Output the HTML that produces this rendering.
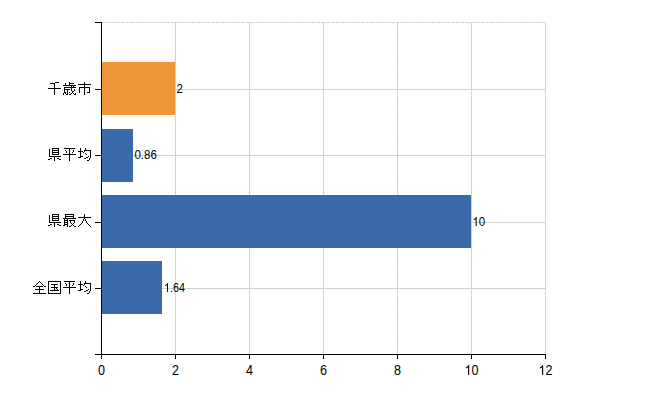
<!DOCTYPE html>
<html><head><meta charset="utf-8"><title>chart</title>
<style>
html,body{margin:0;padding:0;background:#fff;}
body{width:650px;height:400px;overflow:hidden;font-family:"Liberation Sans",sans-serif;}
svg{display:block;}
.ax{font-family:"Liberation Sans",sans-serif;font-size:14px;fill:#000;}
.dl{font-family:"Liberation Sans",sans-serif;font-size:12px;fill:#000;}
</style></head><body>
<svg width="650" height="400" viewBox="0 0 650 400" shape-rendering="crispEdges">
<rect width="650" height="400" fill="#fff"/>
<defs><pattern id="vp" x="0" y="0" width="1" height="5" patternUnits="userSpaceOnUse"><rect width="1" height="5" fill="#cbd1cb"/><rect width="1" height="1" fill="#ffccff"/></pattern><pattern id="hp" x="5" y="0" width="15" height="1" patternUnits="userSpaceOnUse"><rect x="0" width="1" height="1" fill="#ffffff"/><rect x="1" width="1" height="1" fill="#cbd1cb"/><rect x="2" width="1" height="1" fill="#cbd1cb"/><rect x="3" width="1" height="1" fill="#ffccff"/><rect x="4" width="1" height="1" fill="#ccffcc"/><rect x="5" width="1" height="1" fill="#cbd1cb"/><rect x="6" width="1" height="1" fill="#ffccff"/><rect x="7" width="1" height="1" fill="#cbd1cb"/><rect x="8" width="1" height="1" fill="#cbd1cb"/><rect x="9" width="1" height="1" fill="#ffccff"/><rect x="10" width="1" height="1" fill="#ccffcc"/><rect x="11" width="1" height="1" fill="#cbd1cb"/><rect x="12" width="1" height="1" fill="#ffccff"/><rect x="13" width="1" height="1" fill="#cbd1cb"/><rect x="14" width="1" height="1" fill="#cbd1cb"/></pattern></defs>
<rect x="102" y="22" width="444" height="1" fill="url(#hp)"/>
<rect x="175" y="23" width="1" height="331" fill="url(#vp)"/>
<rect x="249" y="23" width="1" height="331" fill="url(#vp)"/>
<rect x="323" y="23" width="1" height="331" fill="url(#vp)"/>
<rect x="397" y="23" width="1" height="331" fill="url(#vp)"/>
<rect x="471" y="23" width="1" height="331" fill="url(#vp)"/>
<rect x="545" y="23" width="1" height="331" fill="url(#vp)"/>
<rect x="102" y="89" width="444" height="1" fill="#cbd1cb"/>
<rect x="102" y="155" width="444" height="1" fill="#cbd1cb"/>
<rect x="102" y="222" width="444" height="1" fill="#cbd1cb"/>
<rect x="102" y="288" width="444" height="1" fill="#cbd1cb"/>
<rect x="102" y="62" width="73" height="53" fill="#f09639"/>
<rect x="102" y="129" width="31" height="53" fill="#3b6aab"/>
<rect x="102" y="195" width="369" height="53" fill="#3b6aab"/>
<rect x="102" y="261" width="60" height="53" fill="#3b6aab"/>
<rect x="101" y="22" width="1" height="333" fill="#000"/>
<rect x="95" y="354" width="451" height="1" fill="#000"/>
<rect x="95" y="22" width="7" height="1" fill="#000"/>
<rect x="95" y="89" width="7" height="1" fill="#000"/>
<rect x="95" y="155" width="7" height="1" fill="#000"/>
<rect x="95" y="222" width="7" height="1" fill="#000"/>
<rect x="95" y="288" width="7" height="1" fill="#000"/>
<rect x="101" y="354" width="1" height="5" fill="#000"/>
<rect x="175" y="354" width="1" height="5" fill="#000"/>
<rect x="249" y="354" width="1" height="5" fill="#000"/>
<rect x="323" y="354" width="1" height="5" fill="#000"/>
<rect x="397" y="354" width="1" height="5" fill="#000"/>
<rect x="471" y="354" width="1" height="5" fill="#000"/>
<rect x="545" y="354" width="1" height="5" fill="#000"/>
<g fill="#000"><rect x="55" y="82" width="4" height="1"/><rect x="50" y="83" width="5" height="1"/><rect x="54" y="84" width="1" height="1"/><rect x="54" y="85" width="1" height="1"/><rect x="54" y="86" width="1" height="1"/><rect x="54" y="87" width="1" height="1"/><rect x="48" y="88" width="13" height="1"/><rect x="54" y="89" width="1" height="1"/><rect x="54" y="90" width="1" height="1"/><rect x="54" y="91" width="1" height="1"/><rect x="54" y="92" width="1" height="1"/><rect x="54" y="93" width="1" height="1"/><rect x="54" y="94" width="1" height="1"/><rect x="69" y="82" width="1" height="1"/><rect x="65" y="83" width="1" height="1"/><rect x="69" y="83" width="5" height="1"/><rect x="65" y="84" width="1" height="1"/><rect x="69" y="84" width="1" height="1"/><rect x="63" y="85" width="13" height="1"/><rect x="71" y="86" width="1" height="1"/><rect x="73" y="86" width="1" height="1"/><rect x="64" y="87" width="12" height="1"/><rect x="64" y="88" width="1" height="1"/><rect x="71" y="88" width="1" height="1"/><rect x="64" y="89" width="6" height="1"/><rect x="71" y="89" width="1" height="1"/><rect x="74" y="89" width="1" height="1"/><rect x="64" y="90" width="1" height="1"/><rect x="67" y="90" width="1" height="1"/><rect x="71" y="90" width="1" height="1"/><rect x="74" y="90" width="1" height="1"/><rect x="64" y="91" width="1" height="1"/><rect x="67" y="91" width="1" height="1"/><rect x="72" y="91" width="2" height="1"/><rect x="64" y="92" width="2" height="1"/><rect x="67" y="92" width="1" height="1"/><rect x="69" y="92" width="1" height="1"/><rect x="72" y="92" width="1" height="1"/><rect x="63" y="93" width="1" height="1"/><rect x="65" y="93" width="1" height="1"/><rect x="67" y="93" width="1" height="1"/><rect x="71" y="93" width="1" height="1"/><rect x="73" y="93" width="1" height="1"/><rect x="75" y="93" width="1" height="1"/><rect x="63" y="94" width="1" height="1"/><rect x="66" y="94" width="2" height="1"/><rect x="69" y="94" width="2" height="1"/><rect x="74" y="94" width="2" height="1"/><rect x="84" y="82" width="1" height="1"/><rect x="84" y="83" width="1" height="1"/><rect x="78" y="84" width="13" height="1"/><rect x="84" y="85" width="1" height="1"/><rect x="84" y="86" width="1" height="1"/><rect x="79" y="87" width="11" height="1"/><rect x="79" y="88" width="1" height="1"/><rect x="84" y="88" width="1" height="1"/><rect x="89" y="88" width="1" height="1"/><rect x="79" y="89" width="1" height="1"/><rect x="84" y="89" width="1" height="1"/><rect x="89" y="89" width="1" height="1"/><rect x="79" y="90" width="1" height="1"/><rect x="84" y="90" width="1" height="1"/><rect x="89" y="90" width="1" height="1"/><rect x="79" y="91" width="1" height="1"/><rect x="84" y="91" width="1" height="1"/><rect x="89" y="91" width="1" height="1"/><rect x="79" y="92" width="1" height="1"/><rect x="84" y="92" width="1" height="1"/><rect x="87" y="92" width="3" height="1"/><rect x="84" y="93" width="1" height="1"/><rect x="84" y="94" width="1" height="1"/>
<rect x="52" y="148" width="7" height="1"/><rect x="49" y="149" width="1" height="1"/><rect x="52" y="149" width="1" height="1"/><rect x="58" y="149" width="1" height="1"/><rect x="49" y="150" width="1" height="1"/><rect x="52" y="150" width="7" height="1"/><rect x="49" y="151" width="1" height="1"/><rect x="52" y="151" width="1" height="1"/><rect x="58" y="151" width="1" height="1"/><rect x="49" y="152" width="1" height="1"/><rect x="52" y="152" width="7" height="1"/><rect x="49" y="153" width="1" height="1"/><rect x="52" y="153" width="1" height="1"/><rect x="58" y="153" width="1" height="1"/><rect x="49" y="154" width="1" height="1"/><rect x="52" y="154" width="7" height="1"/><rect x="49" y="155" width="1" height="1"/><rect x="49" y="156" width="12" height="1"/><rect x="54" y="157" width="1" height="1"/><rect x="50" y="158" width="2" height="1"/><rect x="54" y="158" width="1" height="1"/><rect x="57" y="158" width="2" height="1"/><rect x="48" y="159" width="2" height="1"/><rect x="54" y="159" width="1" height="1"/><rect x="59" y="159" width="2" height="1"/><rect x="54" y="160" width="1" height="1"/><rect x="64" y="148" width="11" height="1"/><rect x="69" y="149" width="1" height="1"/><rect x="65" y="150" width="1" height="1"/><rect x="69" y="150" width="1" height="1"/><rect x="73" y="150" width="1" height="1"/><rect x="66" y="151" width="1" height="1"/><rect x="69" y="151" width="1" height="1"/><rect x="73" y="151" width="1" height="1"/><rect x="66" y="152" width="1" height="1"/><rect x="69" y="152" width="1" height="1"/><rect x="72" y="152" width="1" height="1"/><rect x="69" y="153" width="1" height="1"/><rect x="63" y="154" width="13" height="1"/><rect x="69" y="155" width="1" height="1"/><rect x="69" y="156" width="1" height="1"/><rect x="69" y="157" width="1" height="1"/><rect x="69" y="158" width="1" height="1"/><rect x="69" y="159" width="1" height="1"/><rect x="69" y="160" width="1" height="1"/><rect x="80" y="148" width="1" height="1"/><rect x="85" y="148" width="1" height="1"/><rect x="80" y="149" width="1" height="1"/><rect x="85" y="149" width="1" height="1"/><rect x="80" y="150" width="1" height="1"/><rect x="84" y="150" width="7" height="1"/><rect x="78" y="151" width="5" height="1"/><rect x="84" y="151" width="1" height="1"/><rect x="90" y="151" width="1" height="1"/><rect x="80" y="152" width="1" height="1"/><rect x="83" y="152" width="1" height="1"/><rect x="90" y="152" width="1" height="1"/><rect x="80" y="153" width="1" height="1"/><rect x="85" y="153" width="1" height="1"/><rect x="90" y="153" width="1" height="1"/><rect x="80" y="154" width="1" height="1"/><rect x="86" y="154" width="1" height="1"/><rect x="90" y="154" width="1" height="1"/><rect x="80" y="155" width="1" height="1"/><rect x="90" y="155" width="1" height="1"/><rect x="80" y="156" width="3" height="1"/><rect x="88" y="156" width="1" height="1"/><rect x="90" y="156" width="1" height="1"/><rect x="78" y="157" width="3" height="1"/><rect x="86" y="157" width="2" height="1"/><rect x="90" y="157" width="1" height="1"/><rect x="84" y="158" width="2" height="1"/><rect x="89" y="158" width="1" height="1"/><rect x="89" y="159" width="1" height="1"/><rect x="87" y="160" width="2" height="1"/>
<rect x="52" y="214" width="7" height="1"/><rect x="49" y="215" width="1" height="1"/><rect x="52" y="215" width="1" height="1"/><rect x="58" y="215" width="1" height="1"/><rect x="49" y="216" width="1" height="1"/><rect x="52" y="216" width="7" height="1"/><rect x="49" y="217" width="1" height="1"/><rect x="52" y="217" width="1" height="1"/><rect x="58" y="217" width="1" height="1"/><rect x="49" y="218" width="1" height="1"/><rect x="52" y="218" width="7" height="1"/><rect x="49" y="219" width="1" height="1"/><rect x="52" y="219" width="1" height="1"/><rect x="58" y="219" width="1" height="1"/><rect x="49" y="220" width="1" height="1"/><rect x="52" y="220" width="7" height="1"/><rect x="49" y="221" width="1" height="1"/><rect x="49" y="222" width="12" height="1"/><rect x="54" y="223" width="1" height="1"/><rect x="50" y="224" width="2" height="1"/><rect x="54" y="224" width="1" height="1"/><rect x="57" y="224" width="2" height="1"/><rect x="48" y="225" width="2" height="1"/><rect x="54" y="225" width="1" height="1"/><rect x="59" y="225" width="2" height="1"/><rect x="54" y="226" width="1" height="1"/><rect x="65" y="214" width="9" height="1"/><rect x="65" y="215" width="1" height="1"/><rect x="73" y="215" width="1" height="1"/><rect x="65" y="216" width="9" height="1"/><rect x="65" y="217" width="1" height="1"/><rect x="73" y="217" width="1" height="1"/><rect x="63" y="218" width="13" height="1"/><rect x="64" y="219" width="1" height="1"/><rect x="67" y="219" width="1" height="1"/><rect x="64" y="220" width="4" height="1"/><rect x="69" y="220" width="6" height="1"/><rect x="64" y="221" width="1" height="1"/><rect x="67" y="221" width="1" height="1"/><rect x="70" y="221" width="1" height="1"/><rect x="74" y="221" width="1" height="1"/><rect x="64" y="222" width="4" height="1"/><rect x="70" y="222" width="1" height="1"/><rect x="74" y="222" width="1" height="1"/><rect x="64" y="223" width="1" height="1"/><rect x="67" y="223" width="1" height="1"/><rect x="71" y="223" width="1" height="1"/><rect x="73" y="223" width="1" height="1"/><rect x="64" y="224" width="4" height="1"/><rect x="72" y="224" width="1" height="1"/><rect x="63" y="225" width="2" height="1"/><rect x="67" y="225" width="1" height="1"/><rect x="71" y="225" width="1" height="1"/><rect x="73" y="225" width="1" height="1"/><rect x="67" y="226" width="1" height="1"/><rect x="69" y="226" width="2" height="1"/><rect x="74" y="226" width="2" height="1"/><rect x="84" y="214" width="1" height="1"/><rect x="84" y="215" width="1" height="1"/><rect x="84" y="216" width="1" height="1"/><rect x="78" y="217" width="13" height="1"/><rect x="84" y="218" width="1" height="1"/><rect x="83" y="219" width="1" height="1"/><rect x="85" y="219" width="1" height="1"/><rect x="83" y="220" width="1" height="1"/><rect x="85" y="220" width="1" height="1"/><rect x="82" y="221" width="1" height="1"/><rect x="86" y="221" width="1" height="1"/><rect x="82" y="222" width="1" height="1"/><rect x="86" y="222" width="1" height="1"/><rect x="81" y="223" width="1" height="1"/><rect x="87" y="223" width="1" height="1"/><rect x="80" y="224" width="1" height="1"/><rect x="88" y="224" width="1" height="1"/><rect x="79" y="225" width="1" height="1"/><rect x="89" y="225" width="1" height="1"/><rect x="78" y="226" width="1" height="1"/><rect x="90" y="226" width="1" height="1"/>
<rect x="39" y="281" width="1" height="1"/><rect x="38" y="282" width="1" height="1"/><rect x="40" y="282" width="1" height="1"/><rect x="37" y="283" width="1" height="1"/><rect x="41" y="283" width="1" height="1"/><rect x="36" y="284" width="1" height="1"/><rect x="42" y="284" width="1" height="1"/><rect x="35" y="285" width="1" height="1"/><rect x="43" y="285" width="1" height="1"/><rect x="33" y="286" width="2" height="1"/><rect x="36" y="286" width="7" height="1"/><rect x="44" y="286" width="2" height="1"/><rect x="39" y="287" width="1" height="1"/><rect x="39" y="288" width="1" height="1"/><rect x="35" y="289" width="9" height="1"/><rect x="39" y="290" width="1" height="1"/><rect x="39" y="291" width="1" height="1"/><rect x="39" y="292" width="1" height="1"/><rect x="33" y="293" width="13" height="1"/><rect x="48" y="281" width="13" height="1"/><rect x="48" y="282" width="1" height="1"/><rect x="60" y="282" width="1" height="1"/><rect x="48" y="283" width="1" height="1"/><rect x="60" y="283" width="1" height="1"/><rect x="48" y="284" width="1" height="1"/><rect x="51" y="284" width="7" height="1"/><rect x="60" y="284" width="1" height="1"/><rect x="48" y="285" width="1" height="1"/><rect x="54" y="285" width="1" height="1"/><rect x="60" y="285" width="1" height="1"/><rect x="48" y="286" width="1" height="1"/><rect x="54" y="286" width="1" height="1"/><rect x="60" y="286" width="1" height="1"/><rect x="48" y="287" width="1" height="1"/><rect x="51" y="287" width="7" height="1"/><rect x="60" y="287" width="1" height="1"/><rect x="48" y="288" width="1" height="1"/><rect x="54" y="288" width="1" height="1"/><rect x="56" y="288" width="1" height="1"/><rect x="60" y="288" width="1" height="1"/><rect x="48" y="289" width="1" height="1"/><rect x="54" y="289" width="1" height="1"/><rect x="57" y="289" width="1" height="1"/><rect x="60" y="289" width="1" height="1"/><rect x="48" y="290" width="1" height="1"/><rect x="50" y="290" width="9" height="1"/><rect x="60" y="290" width="1" height="1"/><rect x="48" y="291" width="1" height="1"/><rect x="60" y="291" width="1" height="1"/><rect x="48" y="292" width="1" height="1"/><rect x="60" y="292" width="1" height="1"/><rect x="48" y="293" width="13" height="1"/><rect x="64" y="281" width="11" height="1"/><rect x="69" y="282" width="1" height="1"/><rect x="65" y="283" width="1" height="1"/><rect x="69" y="283" width="1" height="1"/><rect x="73" y="283" width="1" height="1"/><rect x="66" y="284" width="1" height="1"/><rect x="69" y="284" width="1" height="1"/><rect x="73" y="284" width="1" height="1"/><rect x="66" y="285" width="1" height="1"/><rect x="69" y="285" width="1" height="1"/><rect x="72" y="285" width="1" height="1"/><rect x="69" y="286" width="1" height="1"/><rect x="63" y="287" width="13" height="1"/><rect x="69" y="288" width="1" height="1"/><rect x="69" y="289" width="1" height="1"/><rect x="69" y="290" width="1" height="1"/><rect x="69" y="291" width="1" height="1"/><rect x="69" y="292" width="1" height="1"/><rect x="69" y="293" width="1" height="1"/><rect x="80" y="281" width="1" height="1"/><rect x="85" y="281" width="1" height="1"/><rect x="80" y="282" width="1" height="1"/><rect x="85" y="282" width="1" height="1"/><rect x="80" y="283" width="1" height="1"/><rect x="84" y="283" width="7" height="1"/><rect x="78" y="284" width="5" height="1"/><rect x="84" y="284" width="1" height="1"/><rect x="90" y="284" width="1" height="1"/><rect x="80" y="285" width="1" height="1"/><rect x="83" y="285" width="1" height="1"/><rect x="90" y="285" width="1" height="1"/><rect x="80" y="286" width="1" height="1"/><rect x="85" y="286" width="1" height="1"/><rect x="90" y="286" width="1" height="1"/><rect x="80" y="287" width="1" height="1"/><rect x="86" y="287" width="1" height="1"/><rect x="90" y="287" width="1" height="1"/><rect x="80" y="288" width="1" height="1"/><rect x="90" y="288" width="1" height="1"/><rect x="80" y="289" width="3" height="1"/><rect x="88" y="289" width="1" height="1"/><rect x="90" y="289" width="1" height="1"/><rect x="78" y="290" width="3" height="1"/><rect x="86" y="290" width="2" height="1"/><rect x="90" y="290" width="1" height="1"/><rect x="84" y="291" width="2" height="1"/><rect x="89" y="291" width="1" height="1"/><rect x="89" y="292" width="1" height="1"/><rect x="87" y="293" width="2" height="1"/>
</g>
</svg>
<svg width="650" height="400" viewBox="0 0 650 400" style="position:absolute;left:0;top:0">
<g transform="translate(101.5,375) scale(0.9,1)"><text class="ax" x="-3.893" y="0">0</text></g>
<g transform="translate(175.5,375) scale(0.9,1)"><text class="ax" x="-3.893" y="0">2</text></g>
<g transform="translate(249.5,375) scale(0.9,1)"><text class="ax" x="-3.893" y="0">4</text></g>
<g transform="translate(323.5,375) scale(0.9,1)"><text class="ax" x="-3.893" y="0">6</text></g>
<g transform="translate(397.5,375) scale(0.9,1)"><text class="ax" x="-3.893" y="0">8</text></g>
<g transform="translate(471.5,375) scale(0.9,1)"><path transform="translate(-7.786,0) scale(0.006836,-0.006836)" d="M763 0H583V1147Q518 1085 412 1023Q307 961 223 930V1104Q374 1175 487 1276Q600 1377 647 1472H763Z"/><text class="ax" x="0.000" y="0">0</text></g>
<g transform="translate(545.5,375) scale(0.9,1)"><path transform="translate(-7.786,0) scale(0.006836,-0.006836)" d="M763 0H583V1147Q518 1085 412 1023Q307 961 223 930V1104Q374 1175 487 1276Q600 1377 647 1472H763Z"/><text class="ax" x="0.000" y="0">2</text></g>
<g transform="translate(176.4,93) scale(0.96,1.04)"><text class="dl" x="0.000" y="0">2</text></g>
<g transform="translate(134.4,159) scale(0.96,1.04)"><text class="dl" x="0.000" y="0">0.86</text></g>
<g transform="translate(472.4,226) scale(0.96,1.04)"><path transform="translate(0.000,0) scale(0.005859,-0.005859)" d="M763 0H583V1147Q518 1085 412 1023Q307 961 223 930V1104Q374 1175 487 1276Q600 1377 647 1472H763Z"/><text class="dl" x="6.674" y="0">0</text></g>
<g transform="translate(163.9,292) scale(0.9,1.04)"><path transform="translate(0.000,0) scale(0.005859,-0.005859)" d="M763 0H583V1147Q518 1085 412 1023Q307 961 223 930V1104Q374 1175 487 1276Q600 1377 647 1472H763Z"/><text class="dl" x="6.674" y="0">.64</text></g>
</svg>
</body></html>
